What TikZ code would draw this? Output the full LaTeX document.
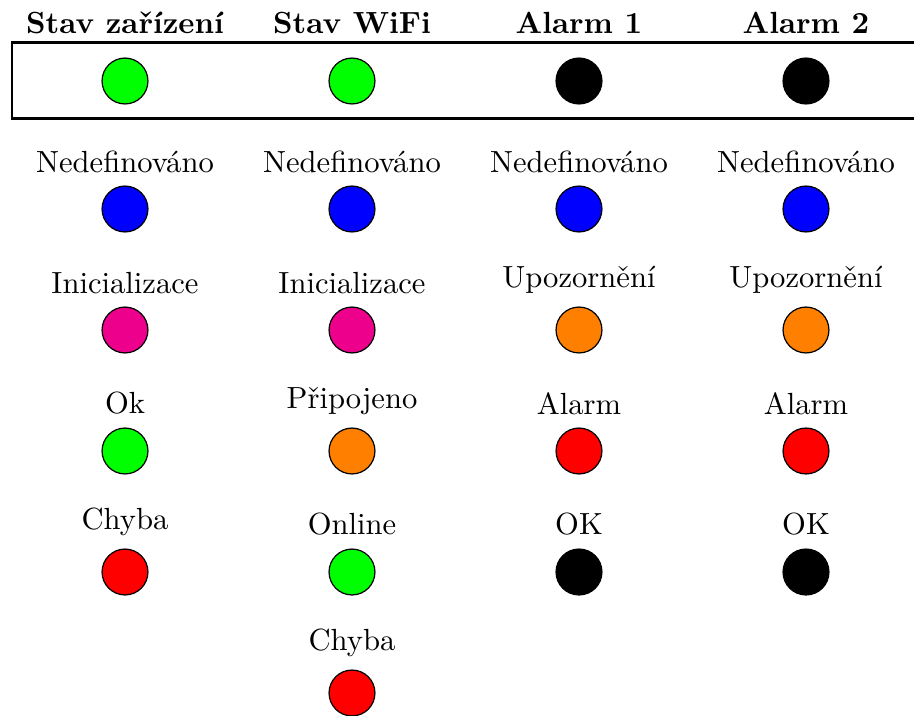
\documentclass[tikz,border=0pt]{standalone}
\definecolor{ledgreen}{RGB}{0,255,0}
\definecolor{ledblue}{RGB}{0,0,255}
\definecolor{ledpink}{RGB}{236,0,140}
\definecolor{ledorange}{RGB}{255,128,0}
\definecolor{ledred}{RGB}{255,0,0}
\begin{document}
\begin{tikzpicture}[x=0.3268pt,y=-0.3268pt,
  led/.style={circle,draw=black,line width=0.4pt,minimum size=15pt,inner sep=0pt},
  lbl/.style={anchor=south,inner sep=0pt},
  hdr/.style={anchor=base,inner sep=0pt,font=\bfseries}]
\clip (0,0) rectangle (914,715);
\draw[line width=0.8pt] (12,42.5) rectangle (930,118.5);
% headers
\node[hdr] (h1) at (125,33) {Stav zařízení};
\node[hdr] (h2) at (352,33) {Stav WiFi};
\node[hdr] (h3) at (579,33) {Alarm 1};
\node[hdr] (h4) at (806,33) {Alarm 2};
% top row
\node[led,fill=ledgreen] (t1) at (125,81) {};
\node[led,fill=ledgreen] (t2) at (352,81) {};
\node[led,fill=black] (t3) at (579,81) {};
\node[led,fill=black] (t4) at (806,81) {};
% column 1
\node[led,fill=ledblue] (a1) at (125,209) {};
\node[lbl] (la1) at (125,173) {Nedefinováno};
\node[led,fill=ledpink] (a2) at (125,330) {};
\node[lbl] (la2) at (125,294) {Inicializace};
\node[led,fill=ledgreen] (a3) at (125,451) {};
\node[lbl] (la3) at (125,415) {Ok};
\node[led,fill=ledred] (a4) at (125,572) {};
\node[lbl] (la4) at (125,536) {Chyba};
% column 2
\node[led,fill=ledblue] (b1) at (352,209) {};
\node[lbl] (lb1) at (352,173) {Nedefinováno};
\node[led,fill=ledpink] (b2) at (352,330) {};
\node[lbl] (lb2) at (352,294) {Inicializace};
\node[led,fill=ledorange] (b3) at (352,451) {};
\node[lbl] (lb3) at (352,415) {Připojeno};
\node[led,fill=ledgreen] (b4) at (352,572) {};
\node[lbl] (lb4) at (352,536) {Online};
\node[led,fill=ledred] (b5) at (352,693) {};
\node[lbl] (lb5) at (352,657) {Chyba};
% column 3
\node[led,fill=ledblue] (c1) at (579,209) {};
\node[lbl] (lc1) at (579,173) {Nedefinováno};
\node[led,fill=ledorange] (c2) at (579,330) {};
\node[lbl] (lc2) at (579,294) {Upozornění};
\node[led,fill=ledred] (c3) at (579,451) {};
\node[lbl] (lc3) at (579,415) {Alarm};
\node[led,fill=black] (c4) at (579,572) {};
\node[lbl] (lc4) at (579,536) {OK};
% column 4
\node[led,fill=ledblue] (d1) at (806,209) {};
\node[lbl] (ld1) at (806,173) {Nedefinováno};
\node[led,fill=ledorange] (d2) at (806,330) {};
\node[lbl] (ld2) at (806,294) {Upozornění};
\node[led,fill=ledred] (d3) at (806,451) {};
\node[lbl] (ld3) at (806,415) {Alarm};
\node[led,fill=black] (d4) at (806,572) {};
\node[lbl] (ld4) at (806,536) {OK};
\end{tikzpicture}
\end{document}
